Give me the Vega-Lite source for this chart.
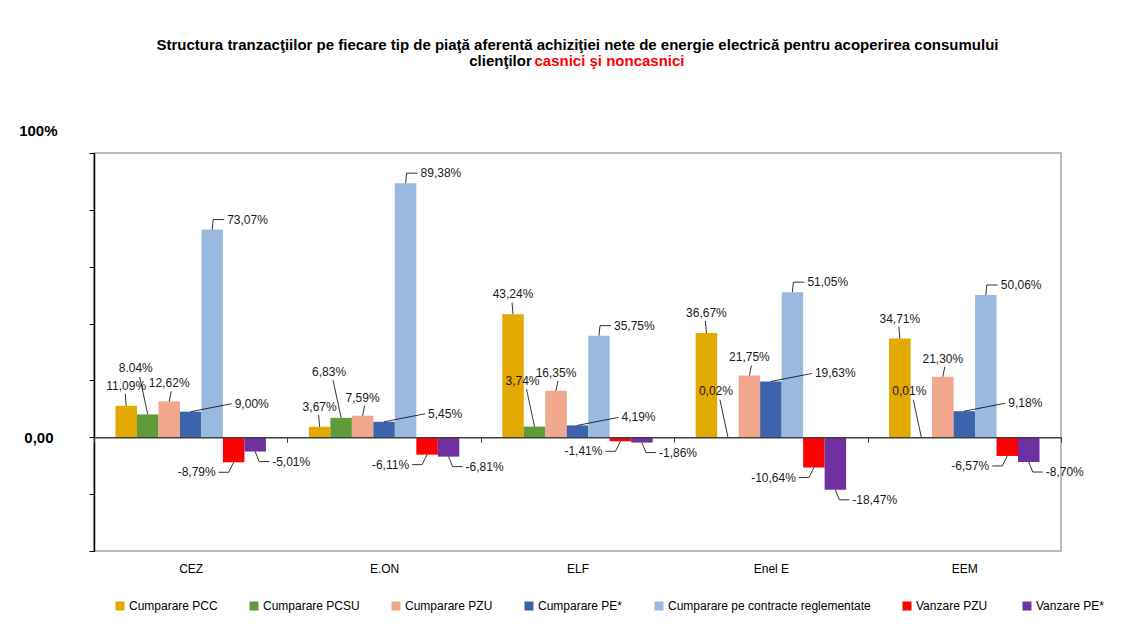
{
  "$schema": "https://vega.github.io/schema/vega-lite/v6.json",
  "width": 967,
  "height": 398,
  "autosize": {"type": "none"},
  "padding": {"left": 94, "top": 153, "right": 79, "bottom": 87},
  "background": "white",
  "config": {
    "font": "Liberation Sans",
    "view": {"stroke": "#a6a6a6", "strokeWidth": 1.5}
  },
  "title": {
    "text": "Structura tranzacţiilor pe fiecare tip de piaţă aferentă achiziţiei nete de energie electrică  pentru acoperirea consumului",
    "fontSize": 15,
    "fontWeight": "bold",
    "color": "#000000",
    "anchor": "middle",
    "frame": "group",
    "offset": 4,
    "dy": 4
  },
  "data": {
    "values": [
      {"company": "CEZ", "series": "Cumparare PCC", "value": 11.09, "label": "11,09%"},
      {"company": "CEZ", "series": "Cumparare PCSU", "value": 8.04, "label": "8.04%"},
      {"company": "CEZ", "series": "Cumparare PZU", "value": 12.62, "label": "12,62%"},
      {"company": "CEZ", "series": "Cumparare PE*", "value": 9.00, "label": "9,00%"},
      {"company": "CEZ", "series": "Cumparare pe contracte reglementate", "value": 73.07, "label": "73,07%"},
      {"company": "CEZ", "series": "Vanzare  PZU", "value": -8.79, "label": "-8,79%"},
      {"company": "CEZ", "series": "Vanzare  PE*", "value": -5.01, "label": "-5,01%"},
      {"company": "E.ON", "series": "Cumparare PCC", "value": 3.67, "label": "3,67%"},
      {"company": "E.ON", "series": "Cumparare PCSU", "value": 6.83, "label": "6,83%"},
      {"company": "E.ON", "series": "Cumparare PZU", "value": 7.59, "label": "7,59%"},
      {"company": "E.ON", "series": "Cumparare PE*", "value": 5.45, "label": "5,45%"},
      {"company": "E.ON", "series": "Cumparare pe contracte reglementate", "value": 89.38, "label": "89,38%"},
      {"company": "E.ON", "series": "Vanzare  PZU", "value": -6.11, "label": "-6,11%"},
      {"company": "E.ON", "series": "Vanzare  PE*", "value": -6.81, "label": "-6,81%"},
      {"company": "ELF", "series": "Cumparare PCC", "value": 43.24, "label": "43,24%"},
      {"company": "ELF", "series": "Cumparare PCSU", "value": 3.74, "label": "3,74%"},
      {"company": "ELF", "series": "Cumparare PZU", "value": 16.35, "label": "16,35%"},
      {"company": "ELF", "series": "Cumparare PE*", "value": 4.19, "label": "4,19%"},
      {"company": "ELF", "series": "Cumparare pe contracte reglementate", "value": 35.75, "label": "35,75%"},
      {"company": "ELF", "series": "Vanzare  PZU", "value": -1.41, "label": "-1,41%"},
      {"company": "ELF", "series": "Vanzare  PE*", "value": -1.86, "label": "-1,86%"},
      {"company": "Enel E", "series": "Cumparare PCC", "value": 36.67, "label": "36,67%"},
      {"company": "Enel E", "series": "Cumparare PCSU", "value": 0.02, "label": "0,02%"},
      {"company": "Enel E", "series": "Cumparare PZU", "value": 21.75, "label": "21,75%"},
      {"company": "Enel E", "series": "Cumparare PE*", "value": 19.63, "label": "19,63%"},
      {"company": "Enel E", "series": "Cumparare pe contracte reglementate", "value": 51.05, "label": "51,05%"},
      {"company": "Enel E", "series": "Vanzare  PZU", "value": -10.64, "label": "-10,64%"},
      {"company": "Enel E", "series": "Vanzare  PE*", "value": -18.47, "label": "-18,47%"},
      {"company": "EEM", "series": "Cumparare PCC", "value": 34.71, "label": "34,71%"},
      {"company": "EEM", "series": "Cumparare PCSU", "value": 0.01, "label": "0,01%"},
      {"company": "EEM", "series": "Cumparare PZU", "value": 21.30, "label": "21,30%"},
      {"company": "EEM", "series": "Cumparare PE*", "value": 9.18, "label": "9,18%"},
      {"company": "EEM", "series": "Cumparare pe contracte reglementate", "value": 50.06, "label": "50,06%"},
      {"company": "EEM", "series": "Vanzare  PZU", "value": -6.57, "label": "-6,57%"},
      {"company": "EEM", "series": "Vanzare  PE*", "value": -8.70, "label": "-8,70%"}
    ]
  },
  "encoding": {
    "x": {
      "field": "company",
      "type": "nominal",
      "sort": ["CEZ", "E.ON", "ELF", "Enel E", "EEM"],
      "scale": {"paddingInner": 0, "paddingOuter": 0},
      "axis": {
        "offset": -113.7,
        "zindex": 1,
        "labelAngle": 0,
        "labelFontSize": 12,
        "labelColor": "#000000",
        "labelPadding": 121,
        "domainColor": "#404040",
        "domainWidth": 1.5,
        "tickColor": "#404040",
        "tickSize": 5,
        "tickBand": "extent",
        "title": "casnici şi noncasnici",
        "titleColor": "#ff0000",
        "titleFontSize": 15,
        "titleFontWeight": "bold",
        "titleAngle": 0,
        "titleAlign": "center",
        "titleBaseline": "middle",
        "titleX": 515,
        "titleY": -377
      }
    },
    "xOffset": {
      "field": "series",
      "type": "nominal",
      "sort": ["Cumparare PCC", "Cumparare PCSU", "Cumparare PZU", "Cumparare PE*", "Cumparare pe contracte reglementate", "Vanzare  PZU", "Vanzare  PE*"],
      "scale": {"paddingInner": 0, "paddingOuter": 1.105}
    },
    "y": {
      "field": "value",
      "type": "quantitative",
      "scale": {"domain": [-40, 100], "nice": false, "zero": false},
      "axis": {
        "values": [-40, -20, 0, 20, 40, 60, 80, 100],
        "labelExpr": "datum.value == 0 ? '0,00' : (datum.value == 100 ? '100%' : '')",
        "labelFontSize": 15,
        "labelFontWeight": "bold",
        "labelColor": "#000000",
        "labelPadding": {"condition": {"test": "datum.value == 100", "value": 32}, "value": 36},
        "labelOffset": {"condition": {"test": "datum.value == 100", "value": -22.5}, "value": 0.5},
        "domainColor": "#000000",
        "domainWidth": 1.5,
        "tickColor": "#000000",
        "tickSize": 5,
        "grid": false,
        "title": "clienţilor",
        "titleAngle": 0,
        "titleX": 406,
        "titleY": -93,
        "titleAlign": "center",
        "titleBaseline": "middle",
        "titleFontSize": 15,
        "titleFontWeight": "bold",
        "titleColor": "#000000"
      }
    }
  },
  "layer": [
    {
      "mark": {"type": "bar"},
      "encoding": {
        "color": {
          "field": "series",
          "type": "nominal",
          "scale": {
            "domain": ["Cumparare PCC", "Cumparare PCSU", "Cumparare PZU", "Cumparare PE*", "Cumparare pe contracte reglementate", "Vanzare  PZU", "Vanzare  PE*"],
            "range": ["#E2A900", "#5E9B3B", "#F0A78B", "#3B64AD", "#99B9DF", "#FF0000", "#7030A0"]
          },
          "legend": {
            "orient": "none",
            "direction": "horizontal",
            "columns": 7,
            "legendX": 20,
            "legendY": 447,
            "title": null,
            "symbolType": "square",
            "symbolSize": 81,
            "symbolStrokeWidth": 0,
            "labelFontSize": 12,
            "labelColor": "#000000",
            "labelOffset": 3,
            "labelLimit": 400,
            "columnPadding": 30
          }
        }
      }
    },
    {
      "transform": [{"filter": {"field": "series", "equal": "Cumparare PCC"}}],
      "mark": {"type": "point", "shape": "M0,0L-0.04,-0.48", "size": 2500, "filled": false, "stroke": "#000000", "strokeWidth": 0.8, "opacity": 1}
    },
    {
      "transform": [{"filter": {"field": "series", "equal": "Cumparare PCC"}}],
      "mark": {"type": "text", "align": "center", "baseline": "bottom", "dy": -13, "fontSize": 12, "color": "#1a1a1a"},
      "encoding": {"text": {"field": "label"}}
    },
    {
      "transform": [{"filter": {"field": "series", "equal": "Cumparare PCSU"}}],
      "mark": {"type": "point", "shape": "M0,0L-0.32,-1.5", "size": 2500, "filled": false, "stroke": "#000000", "strokeWidth": 0.8, "opacity": 1}
    },
    {
      "transform": [{"filter": {"field": "series", "equal": "Cumparare PCSU"}}],
      "mark": {"type": "text", "align": "center", "baseline": "bottom", "dx": -12, "dy": -39, "fontSize": 12, "color": "#1a1a1a"},
      "encoding": {"text": {"field": "label"}}
    },
    {
      "transform": [{"filter": {"field": "series", "equal": "Cumparare PZU"}}],
      "mark": {"type": "point", "shape": "M0,0L0.08,-0.4", "size": 2500, "filled": false, "stroke": "#000000", "strokeWidth": 0.8, "opacity": 1}
    },
    {
      "transform": [{"filter": {"field": "series", "equal": "Cumparare PZU"}}],
      "mark": {"type": "text", "align": "center", "baseline": "bottom", "dy": -11, "fontSize": 12, "color": "#1a1a1a"},
      "encoding": {"text": {"field": "label"}}
    },
    {
      "transform": [{"filter": {"field": "series", "equal": "Cumparare PE*"}}],
      "mark": {"type": "point", "shape": "M0,0L1.64,-0.32", "size": 2500, "filled": false, "stroke": "#000000", "strokeWidth": 0.8, "opacity": 1}
    },
    {
      "transform": [{"filter": {"field": "series", "equal": "Cumparare PE*"}}],
      "mark": {"type": "text", "align": "left", "baseline": "middle", "dx": 44, "dy": -8, "fontSize": 12, "color": "#1a1a1a"},
      "encoding": {"text": {"field": "label"}}
    },
    {
      "transform": [{"filter": {"field": "series", "equal": "Cumparare pe contracte reglementate"}}],
      "mark": {"type": "point", "shape": "M0,0L0.04,-0.4L0.48,-0.4", "size": 2500, "filled": false, "stroke": "#000000", "strokeWidth": 0.8, "opacity": 1}
    },
    {
      "transform": [{"filter": {"field": "series", "equal": "Cumparare pe contracte reglementate"}}],
      "mark": {"type": "text", "align": "left", "baseline": "middle", "dx": 15, "dy": -10, "fontSize": 12, "color": "#1a1a1a"},
      "encoding": {"text": {"field": "label"}}
    },
    {
      "transform": [{"filter": {"field": "series", "equal": "Vanzare  PZU"}}],
      "mark": {"type": "point", "shape": "M0,0L-0.2,0.4L-0.6,0.4", "size": 2500, "filled": false, "stroke": "#000000", "strokeWidth": 0.8, "opacity": 1}
    },
    {
      "transform": [{"filter": {"field": "series", "equal": "Vanzare  PZU"}}],
      "mark": {"type": "text", "align": "right", "baseline": "middle", "dx": -18, "dy": 10, "fontSize": 12, "color": "#1a1a1a"},
      "encoding": {"text": {"field": "label"}}
    },
    {
      "transform": [{"filter": {"field": "series", "equal": "Vanzare  PE*"}}],
      "mark": {"type": "point", "shape": "M0,0L0.16,0.4L0.56,0.4", "size": 2500, "filled": false, "stroke": "#000000", "strokeWidth": 0.8, "opacity": 1}
    },
    {
      "transform": [{"filter": {"field": "series", "equal": "Vanzare  PE*"}}],
      "mark": {"type": "text", "align": "left", "baseline": "middle", "dx": 17, "dy": 10, "fontSize": 12, "color": "#1a1a1a"},
      "encoding": {"text": {"field": "label"}}
    }
  ]
}
